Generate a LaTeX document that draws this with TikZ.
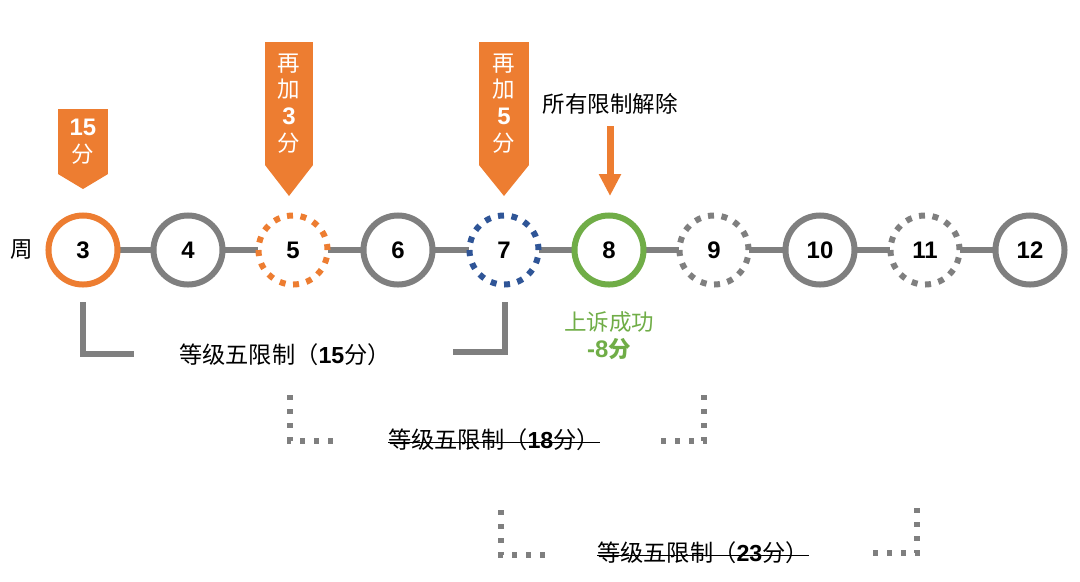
\documentclass[tikz,border=0pt]{standalone}
\usepackage{fontspec}
\setmainfont{Noto Sans CJK SC}
\newfontfamily\digitfont{Liberation Sans}
\usepackage{tikz}
\usetikzlibrary{arrows.meta, backgrounds}

\definecolor{penorange}{HTML}{ED7D31}
\definecolor{appealgreen}{HTML}{70AD47}
\definecolor{weekgray}{HTML}{7F7F7F}
\definecolor{weekblue}{HTML}{2F5597}

\begin{document}
\begin{tikzpicture}[
  x=0.025cm, y=-0.025cm,
  every node/.style={font=\fontsize{16}{19}\selectfont},
  week/.style={circle, draw=weekgray, fill=white, line width=0.15cm,
               minimum size=1.725cm, inner sep=0pt, outer sep=0pt,
               font=\fontsize{17}{20}\selectfont\digitfont\bfseries},
  dotweek/.style={week, dash pattern=on 0.15cm off 0.1887cm},
  link/.style={draw=weekgray, line width=0.15cm},
  banner/.style={fill=penorange, text=white, inner sep=0pt, outer sep=0pt,
                 align=center, font=\fontsize{16}{19}\selectfont},
  span/.style={draw=weekgray, line width=0.15cm},
  ghostspan/.style={draw=weekgray, line width=0.13cm,
                    dash pattern=on 0.13cm off 0.22cm},
  tierlabel/.style={inner sep=0pt, font=\fontsize{16.5}{19}\selectfont},
  strike/.style={draw=black, line width=0.6pt},
]
  \useasboundingbox (0,0) rectangle (1080,581);

  % weeks
  \node (weeklbl) at (22,250) {周};
  \node[week, draw=penorange] (w3) at (83,250) {3};
  \node[week] (w4) at (188,250) {4};
  \node[dotweek, draw=penorange] (w5) at (293,250) {5};
  \node[week] (w6) at (398,250) {6};
  \node[dotweek, draw=weekblue] (w7) at (504,250) {7};
  \node[week, draw=appealgreen] (w8) at (609,250) {8};
  \node[dotweek] (w9) at (714,250) {9};
  \node[week] (w10) at (820,250) {10};
  \node[dotweek] (w11) at (925,250) {11};
  \node[week] (w12) at (1030,250) {12};

  \begin{scope}[on background layer]
    \draw[link] (w3) -- (w4);
    \draw[link] (w4) -- (w5);
    \draw[link] (w5) -- (w6);
    \draw[link] (w6) -- (w7);
    \draw[link] (w7) -- (w8);
    \draw[link] (w8) -- (w9);
    \draw[link] (w9) -- (w10);
    \draw[link] (w10) -- (w11);
    \draw[link] (w11) -- (w12);
  \end{scope}

  % penalty banners
  \node[banner, minimum width=1.25cm, minimum height=1.625cm] (pen15) at (83,141.5)
    {{\digitfont\bfseries\fontsize{17}{19}\selectfont 15}\\分};
  \coordinate (tip15) at (83,189);
  \fill[penorange] (pen15.south west) -- (pen15.south east) -- (tip15) -- cycle;

  \node[banner, minimum width=1.2cm, minimum height=3.075cm] (pen3) at (289,103.5)
    {再\\加\\{\digitfont\bfseries\fontsize{17}{19}\selectfont 3}\\分};
  \coordinate (tip3) at (289,196);
  \fill[penorange] (pen3.south west) -- (pen3.south east) -- (tip3) -- cycle;

  \node[banner, minimum width=1.25cm, minimum height=3.075cm] (pen5) at (504,103.5)
    {再\\加\\{\digitfont\bfseries\fontsize{17}{19}\selectfont 5}\\分};
  \coordinate (tip5) at (504,196);
  \fill[penorange] (pen5.south west) -- (pen5.south east) -- (tip5) -- cycle;

  % lifted
  \node (lifted) at (610,104) {所有限制解除};
  \coordinate (liftpt) at (610,196);
  \draw[-{Triangle[width=0.525cm,length=0.55cm]}, line width=0.175cm, penorange,
        shorten <=5pt] (lifted) -- (liftpt);

  \node[text=appealgreen, align=center] (appeal) at (609,336)
    {上诉成功\\{\digitfont\bfseries\fontsize{17}{19}\selectfont -8}{\bfseries 分}};

  % restriction spans
  \draw[span] (83,302) |- (134,354);
  \draw[span] (453,352) -| (505,302);
  \node[tierlabel] (lvl15) at (285,355) {等级五限制（{\digitfont\bfseries 15}分）};

  \draw[ghostspan] (290,395) |- (334,441);
  \draw[ghostspan] (704,395) |- (660,441);
  \node[tierlabel] (lvl18) at (494,440) {等级五限制（{\digitfont\bfseries 18}分）};
  \draw[strike] ([yshift=-0.07cm]lvl18.west) -- ([yshift=-0.07cm]lvl18.east);

  \draw[ghostspan] (501,510) |- (545,555);
  \draw[ghostspan] (917,508) |- (873,553);
  \node[tierlabel] (lvl23) at (703,553) {等级五限制（{\digitfont\bfseries 23}分）};
  \draw[strike] ([yshift=-0.07cm]lvl23.west) -- ([yshift=-0.07cm]lvl23.east);
\end{tikzpicture}
\end{document}
